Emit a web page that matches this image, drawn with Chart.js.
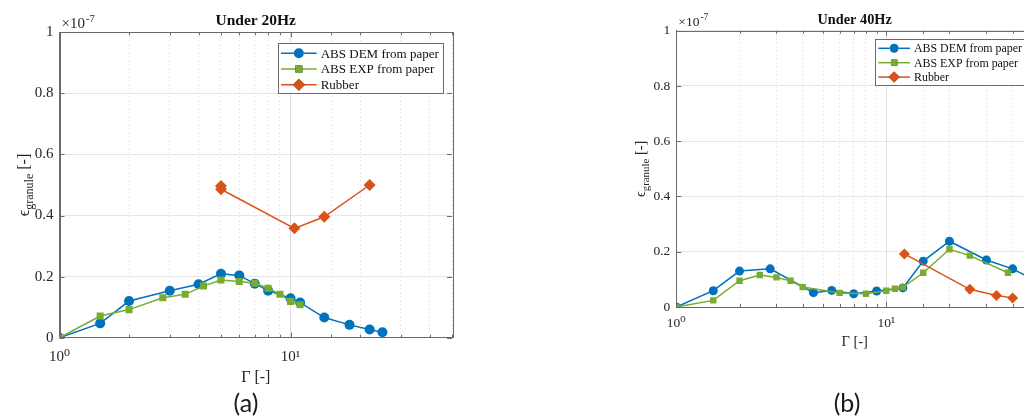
<!DOCTYPE html>
<html>
<head>
<meta charset="utf-8">
<script src="https://cdn.jsdelivr.net/npm/chart.js@4"></script>
<style>
body { margin:0; width:1024px; height:418px; overflow:hidden; background:#fff; position:relative; }
.box { position:absolute; top:0; }
.cap { position:absolute; font-family:'Lato','DejaVu Sans',sans-serif; font-size:25px; color:#1a1a1a; transform:translateX(-50%); line-height:1; }
</style>
</head>
<body>
<div class="box" style="left:0"><canvas id="c20" width="480" height="418"></canvas></div>
<div class="box" style="left:600px"><canvas id="c40" width="460" height="418"></canvas></div>
<div class="cap" style="left:246px;top:390px">(a)</div>
<div class="cap" style="left:847px;top:390px">(b)</div>
<script>
// Under 20Hz
const gammaDem20 = [1, 1.5, 2, 3, 4, 5, 6, 7, 8, 10, 11, 14, 18, 22, 25];
const epsDem20 = [0, 0.047, 0.12, 0.154, 0.175, 0.209, 0.204, 0.177, 0.154, 0.129, 0.115, 0.066, 0.042, 0.027, 0.018];
const gammaExp20 = [1, 1.5, 2, 2.8, 3.5, 4.2, 5, 6, 7, 8, 9, 10, 11];
const epsExp20 = [0, 0.071, 0.092, 0.131, 0.142, 0.169, 0.189, 0.184, 0.178, 0.162, 0.142, 0.119, 0.108];
const gammaRub20 = [5, 5, 10.4, 14, 22];
const epsRub20 = [0.497, 0.486, 0.358, 0.396, 0.50];

// Under 40Hz
const gammaDem40 = [1, 1.5, 2, 2.8, 4.5, 5.5, 7, 9, 12, 15, 20, 30, 40, 50];
const epsDem40 = [0, 0.059, 0.130, 0.138, 0.052, 0.060, 0.048, 0.058, 0.069, 0.166, 0.238, 0.170, 0.138, 0.10];
const gammaExp40 = [1, 1.5, 2, 2.5, 3, 3.5, 4, 6, 8, 10, 11, 12, 15, 20, 25, 38];
const epsExp40 = [0, 0.024, 0.095, 0.116, 0.107, 0.095, 0.072, 0.051, 0.048, 0.059, 0.066, 0.071, 0.124, 0.209, 0.186, 0.124];
const gammaRub40 = [12.2, 25, 33.5, 40];
const epsRub40 = [0.192, 0.064, 0.042, 0.033];

const seriesNames = ['ABS DEM from paper', 'ABS EXP from paper', 'Rubber'];
const yTicks = [0, 0.2, 0.4, 0.6, 0.8, 1];

const serif = "'Liberation Serif', 'DejaVu Serif', serif";
const isMajor = v => v === 1 || v === 10;

const frame = {
  id: 'frame',
  afterDraw(chart, args, o) {
    const ctx = chart.ctx, a = chart.chartArea, xs = chart.scales.x, ys = chart.scales.y;
    ctx.save();
    // box
    ctx.strokeStyle = '#6b6b6b';
    ctx.lineWidth = 1;
    ctx.strokeRect(Math.round(a.left) + 0.5, Math.round(a.top) + 0.5, Math.round(a.right - a.left), Math.round(a.bottom - a.top));
    // inward ticks
    ctx.beginPath();
    xs.ticks.forEach(t => {
      const px = Math.round(xs.getPixelForValue(t.value)) + 0.5;
      const len = isMajor(t.value) ? 5 : 3;
      ctx.moveTo(px, a.bottom); ctx.lineTo(px, a.bottom - len);
      ctx.moveTo(px, a.top); ctx.lineTo(px, a.top + len);
    });
    ys.ticks.forEach(t => {
      const py = Math.round(ys.getPixelForValue(t.value)) + 0.5;
      ctx.moveTo(a.left, py); ctx.lineTo(a.left + 5, py);
      ctx.moveTo(a.right, py); ctx.lineTo(a.right - 5, py);
    });
    ctx.stroke();

    const cx = (a.left + a.right) / 2;
    const cy = (a.top + a.bottom) / 2;
    ctx.fillStyle = '#111';
    ctx.textBaseline = 'middle';
    // title
    ctx.textAlign = 'center';
    ctx.font = 'bold ' + o.titleSize + 'px ' + serif;
    ctx.fillText(o.title, cx, a.top - o.titleGap);
    // exponent
    ctx.fillStyle = '#262626';
    ctx.textAlign = 'left';
    ctx.font = o.fs + 'px ' + serif;
    ctx.fillText('×10', a.left + 2, a.top - 8);
    const w10 = ctx.measureText('×10').width;
    ctx.font = (o.fs * 0.7) + 'px ' + serif;
    ctx.fillText('-7', a.left + 2 + w10 + 1, a.top - 13);
    // x label
    ctx.textAlign = 'center';
    ctx.font = o.labSize + 'px ' + serif;
    ctx.fillText('Γ [-]', cx, a.bottom + o.xLabGap);
    // y label with subscript
    ctx.save();
    ctx.translate(a.left - o.yLabGap, cy);
    ctx.rotate(-Math.PI / 2);
    ctx.textAlign = 'left';
    ctx.textBaseline = 'alphabetic';
    const big = o.labSize + 'px ' + serif, small = (o.labSize * 0.75) + 'px ' + serif;
    ctx.font = big; const wE = ctx.measureText('ϵ').width;
    ctx.font = small; const wG = ctx.measureText('granule').width;
    ctx.font = big; const wB = ctx.measureText(' [-]').width;
    let tx = -(wE + wG + wB) / 2;
    ctx.font = big; ctx.fillText('ϵ', tx, 5); tx += wE;
    ctx.font = small; ctx.fillText('granule', tx, 9); tx += wG;
    ctx.font = big; ctx.fillText(' [-]', tx, 5);
    ctx.restore();

    // legend
    const L = o.legend;
    ctx.fillStyle = '#fff';
    ctx.fillRect(L.x, L.y, L.w, L.h);
    ctx.strokeStyle = '#6b6b6b';
    ctx.strokeRect(Math.round(L.x) + 0.5, Math.round(L.y) + 0.5, Math.round(L.w), Math.round(L.h));
    chart.data.datasets.forEach((d, i) => {
      const ry = L.y + L.first + i * L.step;
      ctx.strokeStyle = d.borderColor;
      ctx.lineWidth = 1.5;
      ctx.beginPath();
      ctx.moveTo(L.x + L.l0, ry); ctx.lineTo(L.x + L.l1, ry);
      ctx.stroke();
      Chart.helpers.drawPoint(ctx, { pointStyle: d.pointStyle, radius: d.pointRadius, borderWidth: 0, rotation: 0 }, L.x + (L.l0 + L.l1) / 2, ry);
      ctx.fillStyle = d.borderColor;
      ctx.fill();
      ctx.fillStyle = '#111';
      ctx.textAlign = 'left';
      ctx.textBaseline = 'middle';
      ctx.font = L.fs + 'px ' + serif;
      ctx.fillText(d.label, L.x + L.tx, ry + 1);
    });
    ctx.restore();
  }
};

function makeSet(label, xs, ys, color, style, r, ord) {
  return {
    label: label,
    data: xs.map((v, i) => ({ x: v, y: ys[i] })),
    borderColor: color,
    backgroundColor: color,
    borderWidth: 1.5,
    pointStyle: style,
    pointRadius: r,
    pointHoverRadius: r,
    pointBorderWidth: 0,
    order: ord,
    tension: 0
  };
}

function makeChart(id, title, dem, exp, rub, g) {
  new Chart(document.getElementById(id), {
    type: 'line',
    data: {
      datasets: [
        makeSet(seriesNames[0], dem[0], dem[1], '#0072BD', 'circle', g.r, 3),
        makeSet(seriesNames[1], exp[0], exp[1], '#77AC30', 'rect', g.r, 2),
        makeSet(seriesNames[2], rub[0], rub[1], '#D95319', 'rectRot', g.r + 1, 1)
      ]
    },
    options: {
      responsive: false,
      animation: false,
      events: [],
      layout: { padding: { left: 0, top: g.top, right: g.right, bottom: g.bottom } },
      plugins: {
        legend: { display: false },
        tooltip: { enabled: false },
        frame: Object.assign({ title: title }, g)
      },
      scales: {
        x: {
          type: 'logarithmic',
          min: 1,
          max: 50,
          afterFit: s => { s.height = g.xh; },
          grid: {
            drawTicks: false,
            lineWidth: 1,
            color: c => (c.tick && isMajor(c.tick.value)) ? '#dcdcdc' : '#d6d6d6'
          },
          border: {
            color: '#6b6b6b',
            dash: c => (c.tick && !isMajor(c.tick.value)) ? [1, 3] : []
          },
          ticks: {
            autoSkip: false,
            maxRotation: 0,
            padding: g.xpad,
            color: '#262626',
            font: { family: serif, size: g.fs },
            callback: v => v === 1 ? '10⁰' : (v === 10 ? '10¹' : '')
          }
        },
        y: {
          min: 0,
          max: 1,
          afterFit: s => { s.width = g.yw; },
          afterBuildTicks: s => { s.ticks = yTicks.map(v => ({ value: v })); },
          grid: { drawTicks: false, color: '#e6e6e6', lineWidth: 1 },
          border: { color: '#6b6b6b' },
          ticks: {
            padding: 6,
            color: '#262626',
            font: { family: serif, size: g.fs },
            callback: v => v === 0 ? '0' : (v === 1 ? '1' : v.toFixed(1))
          }
        }
      }
    },
    plugins: [frame]
  });
}

makeChart('c20', 'Under 20Hz', [gammaDem20, epsDem20], [gammaExp20, epsExp20], [gammaRub20, epsRub20], {
  top: 32.3, right: 28, bottom: 418 - 337.7 - 30, xh: 30, yw: 59.5,
  r: 5, fs: 15, titleSize: 15.5, titleGap: 11, labSize: 16, xLabGap: 40, yLabGap: 36, xpad: 10,
  legend: { x: 277.7, y: 42.7, w: 164.6, h: 50.3, first: 10.6, step: 15.7, l0: 3.3, l1: 39, tx: 43, fs: 13 }
});

makeChart('c40', 'Under 40Hz', [gammaDem40, epsDem40], [gammaExp40, epsExp40], [gammaRub40, epsRub40], {
  top: 30.7, right: 27, bottom: 418 - 307 - 30, xh: 30, yw: 76.3,
  r: 4.5, fs: 13.5, titleSize: 14.3, titleGap: 10.7, labSize: 14.5, xLabGap: 34.7, yLabGap: 36.3, xpad: 8,
  legend: { x: 275.3, y: 39.3, w: 150, h: 46, first: 9, step: 14.4, l0: 3, l1: 34.7, tx: 38.7, fs: 11.9 }
});
</script>
</body>
</html>
